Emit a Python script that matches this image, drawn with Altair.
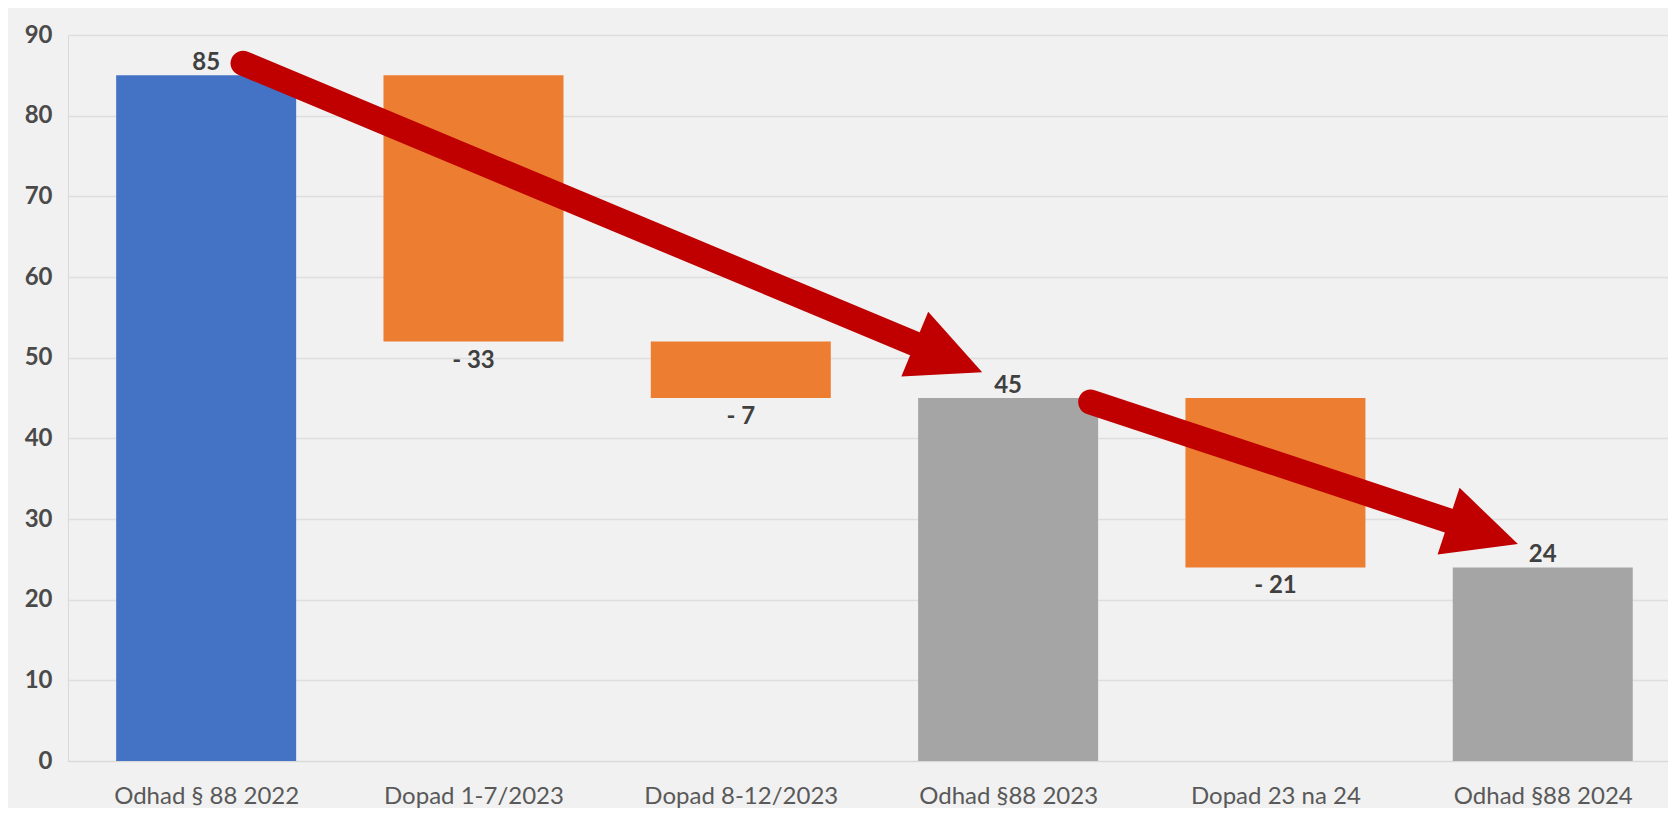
import math
import altair as alt
import pandas as pd

# ---- data ----
categories = ["Odhad § 88 2022", "Dopad 1-7/2023", "Dopad 8-12/2023",
              "Odhad §88 2023", "Dopad 23 na 24", "Odhad §88 2024"]
values = [85, -33, -7, 45, -21, 24]
kinds = ["start", "change", "change", "total", "change", "total"]

# annotation arrows (x in category-index units, y in chart units)
arrow_ids = ["a1", "a1", "a2", "a2"]
arrow_x = [0.138, 2.783, 3.309, 4.784]
arrow_y = [86.5, 49.9, 44.5, 28.3]
head_ids = ["a1", "a2"]
head_x = [2.903, 4.907]
head_y = [48.2, 26.9]

# ---- build waterfall table ----
rows = []
running = 0
for i, (c, v, k) in enumerate(zip(categories, values, kinds)):
    if k in ("start", "total"):
        lo, hi = 0, v
        running = v
        rows.append(dict(idx=i, cat=c, y=lo, y2=hi, kind=k,
                         label=str(v), ly=hi, pos="top"))
    else:
        lo, hi = running + v, running
        running = running + v
        rows.append(dict(idx=i, cat=c, y=lo, y2=hi, kind="decrease",
                         label="- " + str(abs(v)), ly=lo, pos="bottom"))
df = pd.DataFrame(rows)

W, H = 1600, 726
STEP = 269.0          # pixels per category
FIRST = 134.0         # pixel offset of first category centre
xdom = [-FIRST / STEP, (W - FIRST) / STEP]
px_per_unit = H / 90.0

FONT = "Lato"
xscale = alt.Scale(domain=xdom, nice=False, zero=False)
yscale = alt.Scale(domain=[0, 90], nice=False)

label_js = "[" + ",".join("'" + c + "'" for c in categories) + "][datum.value]"

bars = alt.Chart(df).mark_bar(width=180).encode(
    x=alt.X("idx:Q", scale=xscale, title=None,
            axis=alt.Axis(values=list(range(len(categories))), labelExpr=label_js,
                          labelAngle=0, labelFontSize=24, labelColor="#595959",
                          labelFont=FONT, ticks=False, labelPadding=23,
                          labelLimit=0, domainColor="#D9D9D9", grid=False,
                          labelFlush=False, labelOverlap=False,
                          minExtent=40, maxExtent=40)),
    y=alt.Y("y:Q", scale=yscale, title=None,
            axis=alt.Axis(values=list(range(0, 91, 10)), labelFontSize=24,
                          labelFontWeight="bold", labelColor="#4A4A4A", labelFont=FONT,
                          ticks=False, labelPadding=16, domainColor="#D9D9D9",
                          gridColor="#DEDEDE", gridWidth=1.5,
                          minExtent=60, maxExtent=60)),
    y2="y2:Q",
    color=alt.Color("kind:N", legend=None,
                    scale=alt.Scale(domain=["start", "decrease", "total"],
                                    range=["#4472C4", "#ED7D31", "#A5A5A5"])),
)

labels_top = alt.Chart(df).transform_filter(alt.datum.pos == "top").mark_text(
    fontSize=24, fontWeight="bold", color="#404040", font=FONT,
    baseline="alphabetic", dy=-5).encode(
    x="idx:Q", y="ly:Q", text="label:N")
labels_bot = alt.Chart(df).transform_filter(alt.datum.pos == "bottom").mark_text(
    fontSize=24, fontWeight="bold", color="#404040", font=FONT,
    baseline="alphabetic", dy=26).encode(
    x="idx:Q", y="ly:Q", text="label:N")

arr_df = pd.DataFrame(dict(id=arrow_ids, x=arrow_x, y=arrow_y,
                           o=list(range(len(arrow_ids)))))
angles = []
for i, hid in enumerate(head_ids):
    sx = arrow_x[arrow_ids.index(hid)]
    sy = arrow_y[arrow_ids.index(hid)]
    dx = (head_x[i] - sx) * STEP
    dy = (sy - head_y[i]) * px_per_unit
    angles.append(math.degrees(math.atan2(dy, dx)))
head_df = pd.DataFrame(dict(id=head_ids, x=head_x, y=head_y, ang=angles))

shafts = alt.Chart(arr_df).mark_line(color="#C00000", strokeWidth=25,
                                     strokeCap="round").encode(
    x="x:Q", y="y:Q", detail="id:N", order="o:Q")

heads = alt.Chart(head_df).mark_point(
    shape="M0,0L-2,-0.96L-2,0.96Z", filled=True, color="#C00000",
    opacity=1, size=5329, strokeWidth=0).encode(
    x="x:Q", y="y:Q",
    angle=alt.Angle("ang:Q", scale=None))

chart = alt.layer(bars, labels_top, labels_bot, shafts, heads).properties(
    width=W, height=H, background="#F1F1F1",
    padding={"left": 0, "top": 5, "right": 0, "bottom": 0},
).configure_view(stroke=None)

chart.save("out.html", embed_options={"renderer": "svg", "actions": False})
